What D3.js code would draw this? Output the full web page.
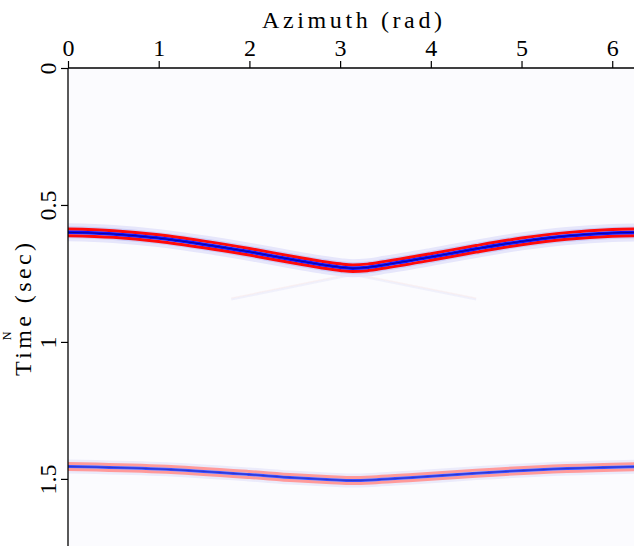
<!DOCTYPE html>
<html>
<head>
<meta charset="utf-8">
<script src="https://cdn.jsdelivr.net/npm/d3@7"></script>
<style>
  body { margin: 0; background: #fff; }
  text { font-family: "Liberation Serif", serif; fill: #000; }
</style>
</head>
<body>
<script>
// data
const azimuth1 = [0, 0.5, 1.0, 1.5, 2.0, 2.5, 2.8, 3.0, 3.14, 3.3, 3.5, 4.0, 4.5, 5.0, 5.5, 6.0, 6.28];
const time1 = [0.600, 0.606, 0.621, 0.644, 0.671, 0.701, 0.718, 0.727, 0.731, 0.728, 0.718, 0.690, 0.660, 0.633, 0.613, 0.602, 0.600];
const azimuth2 = [0, 1.0, 2.0, 2.5, 2.9, 3.14, 3.4, 3.8, 4.5, 5.5, 6.28];
const time2 = [1.455, 1.464, 1.484, 1.496, 1.503, 1.506, 1.503, 1.495, 1.479, 1.462, 1.455];
// faint artefact below the first event
const ghostAz = [1.8, 3.14, 4.5];
const ghostT = [0.845, 0.755, 0.845];
const xTicks = [0, 1, 2, 3, 4, 5, 6];
const yTicks = [0, 0.5, 1, 1.5];

const WIDTH = 634, HEIGHT = 546;
const svg = d3.select("body").append("svg").attr("width", WIDTH).attr("height", HEIGHT);

const x = d3.scaleLinear().domain([0, 6.24]).range([68, 634]);
const y = d3.scaleLinear().domain([0, 1.745]).range([68, 546]);

svg.append("clipPath").attr("id", "clip")
  .append("rect").attr("x", 68).attr("y", 68).attr("width", 566).attr("height", 478);

svg.append("rect").attr("x", 68).attr("y", 68).attr("width", 566).attr("height", 478).attr("fill", "#fbfbfe");

const plot = svg.append("g").attr("clip-path", "url(#clip)");

// draw one reflection as stacked bands (time shift in sec, colour, width, opacity)
function drawEvent(az, t, bands, curve) {
  const pts = az.map((a, i) => [a, t[i]]);
  bands.forEach(b => {
    const line = d3.line()
      .x(d => x(d[0]))
      .y(d => y(d[1] + b.dt))
      .curve(curve || d3.curveMonotoneX);
    plot.append("path").datum(pts)
      .attr("d", line)
      .attr("fill", "none")
      .attr("stroke", b.c)
      .attr("stroke-width", b.w)
      .attr("stroke-opacity", b.o);
  });
}

drawEvent(ghostAz, ghostT, [
  { dt: 0, c: "#dcdcf6", w: 2, o: 0.35 },
  { dt: -0.005, c: "#f6dcdc", w: 1.2, o: 0.35 }
], d3.curveLinear);

drawEvent(azimuth1, time1, [
  { dt: 0, c: "#e6e6fb", w: 18, o: 1 },
  { dt: 0, c: "#cdcdf7", w: 12, o: 1 },
  { dt: -0.012, c: "#ff0a0a", w: 3, o: 1 },
  { dt: 0.012, c: "#ff0a0a", w: 3, o: 1 },
  { dt: 0, c: "#1010ff", w: 3.5, o: 1 },
  { dt: 0, c: "#000060", w: 1, o: 0.6 }
]);

drawEvent(azimuth2, time2, [
  { dt: 0, c: "#ebebfb", w: 14, o: 1 },
  { dt: -0.011, c: "#ff9a9a", w: 3, o: 1 },
  { dt: 0.011, c: "#ff9a9a", w: 3, o: 1 },
  { dt: 0, c: "#3c50ff", w: 3, o: 1 },
  { dt: 0, c: "#1a1aa0", w: 1, o: 0.5 }
]);

// axes
const xAxisG = svg.append("g").attr("transform", "translate(0,68)")
  .call(d3.axisTop(x).tickValues(xTicks).tickSize(7).tickFormat(d3.format("d")));
xAxisG.select(".domain").attr("d", "M68,0H634").attr("stroke", "#000").attr("stroke-width", 1.3);
xAxisG.selectAll(".tick line").attr("stroke-width", 1.2);
xAxisG.selectAll(".tick text").attr("font-family", "Liberation Serif, serif").attr("font-size", 24).attr("dy", "-0.1em");

const yAxisG = svg.append("g").attr("transform", "translate(68,0)")
  .call(d3.axisLeft(y).tickValues(yTicks).tickSize(7).tickFormat(d => d3.format("")(d)));
yAxisG.select(".domain").attr("d", "M0,68V546").attr("stroke", "#000").attr("stroke-width", 1.3);
yAxisG.selectAll(".tick line").attr("stroke-width", 1.2);
yAxisG.selectAll(".tick text")
  .attr("font-family", "Liberation Serif, serif").attr("font-size", 24)
  .attr("x", null).attr("dy", null)
  .attr("text-anchor", "middle")
  .attr("transform", "translate(-12,0) rotate(-90)");

svg.append("text").attr("x", 262).attr("y", 28)
  .attr("font-size", 24).attr("textLength", 180).attr("lengthAdjust", "spacing").text("Azimuth (rad)");

svg.append("text").attr("transform", "translate(31,376) rotate(-90)")
  .attr("font-size", 24).attr("textLength", 133).attr("lengthAdjust", "spacing").text("Time (sec)");
svg.append("text").attr("transform", "translate(11,336) rotate(-90)").attr("text-anchor", "middle")
  .attr("font-size", 12).text("N");
</script>
</body>
</html>
